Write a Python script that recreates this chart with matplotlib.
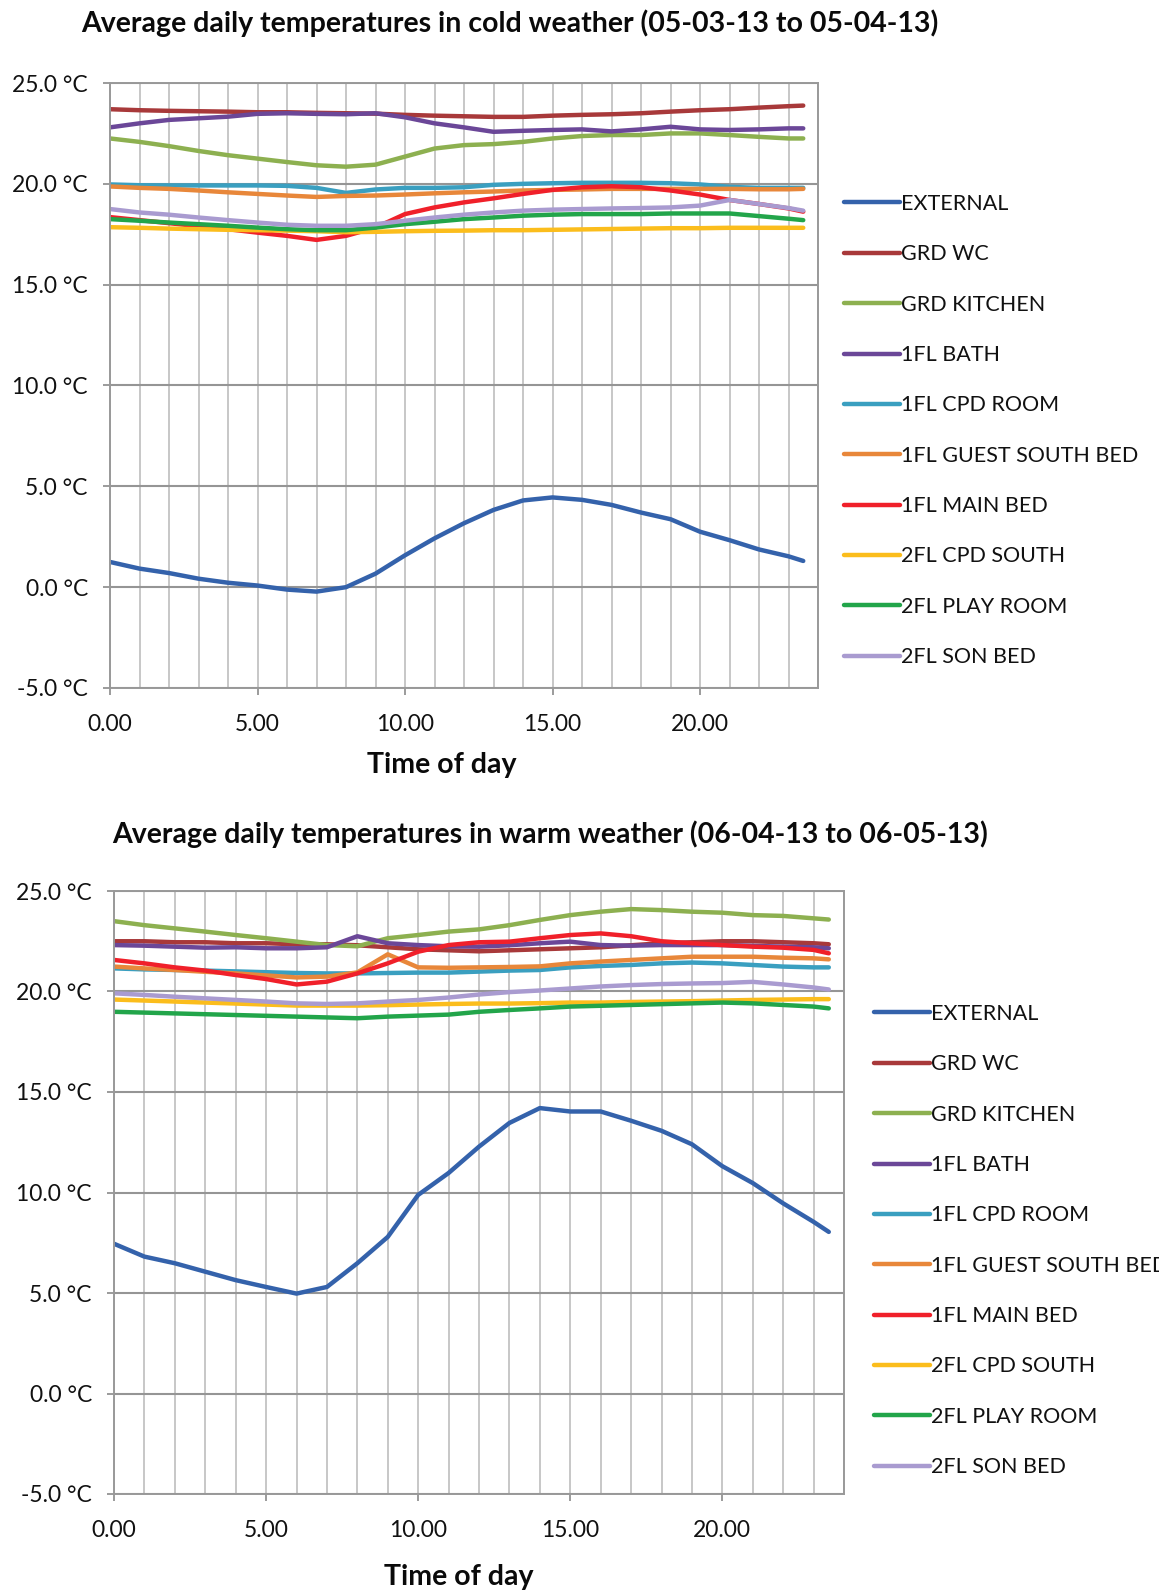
import matplotlib
matplotlib.use('agg')
import matplotlib.pyplot as plt
from matplotlib.ticker import FixedLocator, FuncFormatter
from matplotlib.transforms import Bbox, TransformedBbox

plt.rcParams['font.family'] = ['Lato', 'DejaVu Sans']

# hours of the day (hourly readings, last one at half past 23)
hours = [0, 1, 2, 3, 4, 5, 6, 7, 8, 9, 10, 11, 12, 13, 14, 15, 16, 17, 18, 19, 20, 21, 22, 23, 23.5]

series_names = ['EXTERNAL', 'GRD WC', 'GRD KITCHEN', '1FL BATH', '1FL CPD ROOM',
                '1FL GUEST SOUTH BED', '1FL MAIN BED', '2FL CPD SOUTH', '2FL PLAY ROOM', '2FL SON BED']
series_colors = ['#3462ab', '#a8393a', '#8db050', '#6b4798', '#3a9fc0',
                 '#e8873a', '#f0202a', '#fbbd1c', '#22a54a', '#a99bd0']

# cold weather (05-03-13 to 05-04-13)
cold_external = [1.25, 0.92, 0.70, 0.42, 0.22, 0.08, -0.12, -0.22, 0.0, 0.67, 1.58, 2.42, 3.17, 3.83, 4.30, 4.45, 4.33, 4.08, 3.70, 3.37, 2.75, 2.33, 1.87, 1.53, 1.30]
cold_grd_wc = [23.70, 23.65, 23.62, 23.60, 23.58, 23.55, 23.55, 23.52, 23.50, 23.48, 23.42, 23.38, 23.35, 23.32, 23.32, 23.38, 23.42, 23.45, 23.50, 23.58, 23.65, 23.70, 23.78, 23.85, 23.88]
cold_kitchen = [22.25, 22.08, 21.87, 21.63, 21.42, 21.25, 21.08, 20.92, 20.85, 20.95, 21.35, 21.75, 21.92, 21.97, 22.08, 22.25, 22.37, 22.42, 22.42, 22.5, 22.5, 22.42, 22.33, 22.25, 22.25]
cold_bath = [22.8, 23.0, 23.17, 23.25, 23.33, 23.47, 23.5, 23.47, 23.45, 23.5, 23.3, 23.0, 22.8, 22.58, 22.63, 22.67, 22.7, 22.6, 22.7, 22.83, 22.7, 22.67, 22.7, 22.75, 22.75]
cold_cpd_room = [19.97, 19.93, 19.92, 19.92, 19.92, 19.92, 19.9, 19.8, 19.55, 19.72, 19.8, 19.8, 19.83, 19.95, 20.0, 20.03, 20.05, 20.05, 20.05, 20.03, 19.97, 19.85, 19.8, 19.8, 19.8]
cold_guest = [19.87, 19.8, 19.75, 19.67, 19.58, 19.5, 19.42, 19.35, 19.4, 19.42, 19.47, 19.53, 19.58, 19.62, 19.67, 19.7, 19.72, 19.75, 19.75, 19.75, 19.75, 19.75, 19.73, 19.73, 19.75]
cold_main_bed = [18.35, 18.2, 18.05, 17.9, 17.75, 17.58, 17.42, 17.22, 17.42, 17.83, 18.5, 18.83, 19.08, 19.28, 19.5, 19.7, 19.83, 19.88, 19.83, 19.67, 19.47, 19.2, 19.0, 18.78, 18.62]
cold_cpd_south = [17.85, 17.82, 17.78, 17.75, 17.72, 17.7, 17.68, 17.65, 17.6, 17.62, 17.65, 17.67, 17.68, 17.7, 17.7, 17.72, 17.74, 17.76, 17.78, 17.8, 17.8, 17.82, 17.82, 17.82, 17.82]
cold_play_room = [18.25, 18.17, 18.08, 18.0, 17.92, 17.83, 17.75, 17.7, 17.7, 17.83, 18.0, 18.12, 18.25, 18.33, 18.42, 18.47, 18.5, 18.5, 18.5, 18.53, 18.53, 18.53, 18.4, 18.27, 18.2]
cold_son_bed = [18.75, 18.58, 18.47, 18.33, 18.2, 18.08, 17.97, 17.92, 17.92, 18.0, 18.17, 18.33, 18.47, 18.58, 18.67, 18.72, 18.75, 18.78, 18.8, 18.83, 18.92, 19.2, 19.0, 18.8, 18.67]

# warm weather (06-04-13 to 06-05-13)
warm_external = [7.45, 6.81, 6.48, 6.06, 5.64, 5.3, 4.97, 5.3, 6.48, 7.79, 9.88, 10.97, 12.28, 13.46, 14.2, 14.03, 14.03, 13.57, 13.07, 12.4, 11.31, 10.47, 9.46, 8.54, 8.04]
warm_grd_wc = [22.5, 22.5, 22.45, 22.45, 22.4, 22.4, 22.35, 22.35, 22.3, 22.2, 22.1, 22.05, 22.0, 22.05, 22.1, 22.15, 22.2, 22.3, 22.4, 22.45, 22.5, 22.5, 22.45, 22.4, 22.35]
warm_kitchen = [23.5, 23.3, 23.14, 22.98, 22.81, 22.65, 22.48, 22.31, 22.25, 22.65, 22.81, 22.98, 23.09, 23.3, 23.56, 23.8, 23.97, 24.1, 24.05, 23.97, 23.92, 23.8, 23.76, 23.64, 23.58]
warm_bath = [22.31, 22.28, 22.23, 22.18, 22.2, 22.15, 22.15, 22.2, 22.75, 22.4, 22.31, 22.25, 22.23, 22.3, 22.4, 22.48, 22.31, 22.28, 22.31, 22.31, 22.31, 22.27, 22.23, 22.2, 22.15]
warm_cpd_room = [21.15, 21.1, 21.07, 21.04, 21.0, 20.96, 20.92, 20.9, 20.9, 20.92, 20.94, 20.94, 20.99, 21.04, 21.07, 21.2, 21.27, 21.32, 21.4, 21.44, 21.4, 21.32, 21.24, 21.2, 21.2]
warm_guest = [21.24, 21.15, 21.07, 20.98, 20.9, 20.8, 20.7, 20.74, 20.95, 21.85, 21.2, 21.18, 21.2, 21.22, 21.25, 21.4, 21.49, 21.57, 21.65, 21.73, 21.73, 21.73, 21.68, 21.65, 21.6]
warm_main_bed = [21.57, 21.4, 21.2, 21.04, 20.82, 20.62, 20.35, 20.49, 20.9, 21.4, 21.98, 22.31, 22.45, 22.48, 22.65, 22.81, 22.89, 22.75, 22.5, 22.4, 22.31, 22.23, 22.18, 22.07, 21.9]
warm_cpd_south = [19.6, 19.55, 19.5, 19.45, 19.4, 19.35, 19.3, 19.3, 19.3, 19.32, 19.35, 19.38, 19.4, 19.4, 19.42, 19.45, 19.45, 19.48, 19.5, 19.52, 19.55, 19.58, 19.6, 19.62, 19.62]
warm_play_room = [18.99, 18.95, 18.91, 18.87, 18.83, 18.79, 18.75, 18.71, 18.67, 18.75, 18.8, 18.85, 18.99, 19.08, 19.16, 19.25, 19.29, 19.33, 19.37, 19.41, 19.45, 19.41, 19.33, 19.25, 19.16]
warm_son_bed = [19.91, 19.83, 19.74, 19.66, 19.58, 19.5, 19.41, 19.38, 19.41, 19.5, 19.58, 19.7, 19.85, 19.97, 20.05, 20.15, 20.25, 20.32, 20.37, 20.4, 20.42, 20.48, 20.35, 20.2, 20.1]

cold_series = [cold_external, cold_grd_wc, cold_kitchen, cold_bath, cold_cpd_room,
               cold_guest, cold_main_bed, cold_cpd_south, cold_play_room, cold_son_bed]
warm_series = [warm_external, warm_grd_wc, warm_kitchen, warm_bath, warm_cpd_room,
               warm_guest, warm_main_bed, warm_cpd_south, warm_play_room, warm_son_bed]

W, H = 1170, 1594
fig = plt.figure(figsize=(W / 100, H / 100), dpi=100)


def px_axes(left, right, top, bottom):
    # axes rectangle from pixel edges
    return fig.add_axes([left / W, 1 - bottom / H, (right - left) / W, (bottom - top) / H])


def draw_chart(ax, series, title, title_xy, xlabel_xy, legend_xy, clip_right=None):
    for vals, name, col in zip(series, series_names, series_colors):
        ax.plot(hours, vals, color=col, lw=3.2, label=name, solid_capstyle='round',
                solid_joinstyle='round')
    ax.set_xlim(0, 24)
    ax.set_ylim(-5, 25)
    ax.set_yticks([-5, 0, 5, 10, 15, 20, 25])
    ax.yaxis.set_major_formatter(FuncFormatter(lambda v, p: f'{v:.1f} °C'))
    ax.set_xticks([0, 5, 10, 15, 20])
    ax.xaxis.set_major_formatter(FuncFormatter(lambda v, p: f'{v:.2f}'))
    ax.xaxis.set_minor_locator(FixedLocator(range(0, 25)))
    ax.grid(True, axis='x', which='both', color='#bdbdbd', lw=1.2)
    ax.grid(True, axis='y', which='major', color='#959595', lw=1.5)
    ax.set_axisbelow(True)
    ax.tick_params(axis='x', which='minor', length=0)
    ax.tick_params(axis='both', which='major', direction='out', length=5, width=1.2,
                   color='#8a8a8a', labelsize=16.5, labelcolor='#111111')
    ax.tick_params(axis='x', which='major', pad=14)
    ax.tick_params(axis='y', which='major', pad=11)
    for sp in ax.spines.values():
        sp.set_color('#999999')
        sp.set_linewidth(1.4)

    fig.text(title_xy[0] / W, 1 - title_xy[1] / H, title, ha='center', va='center',
             fontsize=20.5, fontweight='bold', color='#0a0a0a')
    fig.text(xlabel_xy[0] / W, 1 - xlabel_xy[1] / H, 'Time of day', ha='center', va='center',
             fontsize=20.5, fontweight='bold', color='#0a0a0a')
    leg = ax.legend(loc='upper left', bbox_to_anchor=(legend_xy[0] / W, 1 - legend_xy[1] / H),
                    bbox_transform=fig.transFigure, frameon=False, fontsize=15.5,
                    handlelength=2.6, handletextpad=0.05, labelspacing=1.41, borderpad=0,
                    borderaxespad=0, labelcolor='#111111')
    if clip_right is not None:
        # the original legend is cut off by the chart area on the right
        box = TransformedBbox(Bbox.from_extents(0, 0, clip_right / W, 1), fig.transFigure)
        for t in leg.get_texts():
            t.set_clip_box(box)
            t.set_clip_on(True)


ax_cold = px_axes(110, 818, 83, 688)
draw_chart(ax_cold, cold_series,
           'Average daily temperatures in cold weather (05-03-13 to 05-04-13)',
           (510, 23), (442, 765), (844, 194))

ax_warm = px_axes(114, 844, 891, 1494)
draw_chart(ax_warm, warm_series,
           'Average daily temperatures in warm weather (06-04-13 to 06-05-13)',
           (550, 834), (459, 1577), (874, 1004), clip_right=1159)

fig.savefig('out.png', dpi=100)
